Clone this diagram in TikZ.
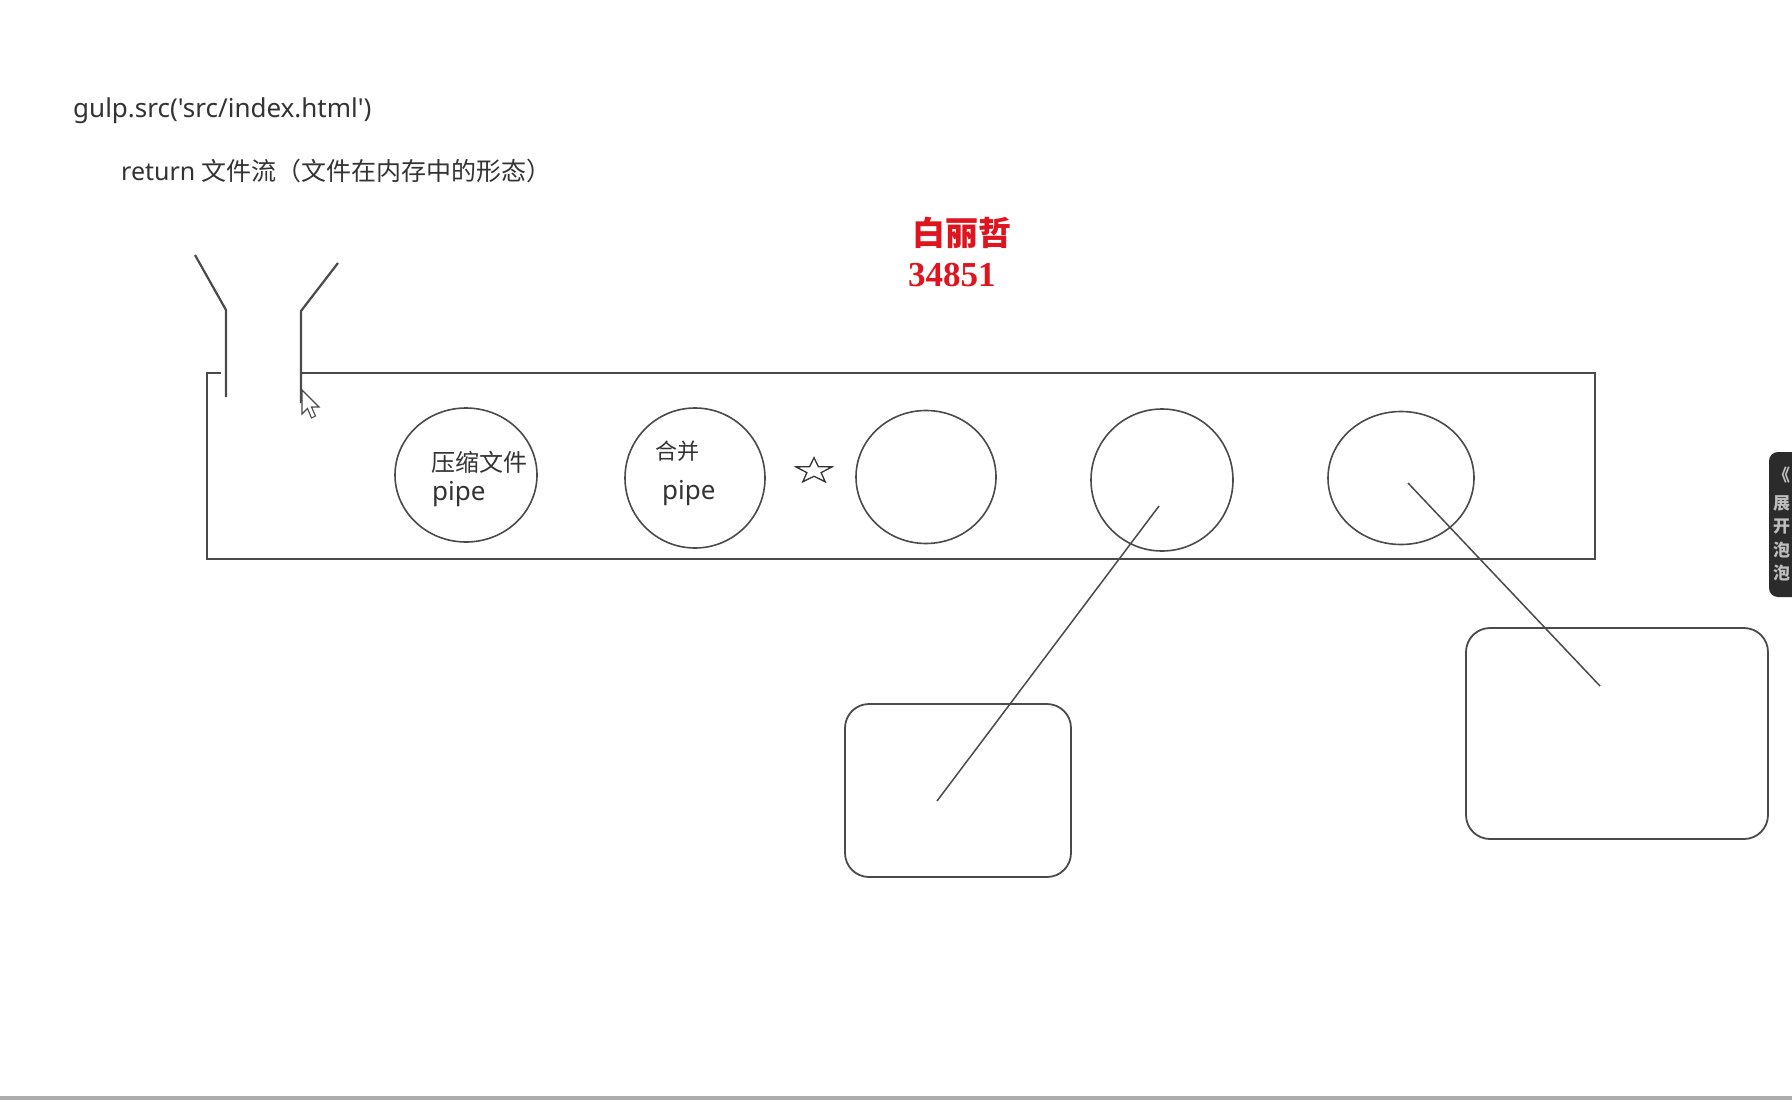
\documentclass[tikz,border=0pt]{standalone}
\usepackage{fontspec}
\setmainfont{Noto Sans}[Ligatures=TeXOff]
\newfontfamily\cjk{Noto Sans CJK SC}
\newfontfamily\serifb{Liberation Serif}
\usetikzlibrary{shapes.geometric}
\definecolor{ink}{HTML}{333333}
\definecolor{linec}{HTML}{4A4A4A}
\definecolor{redtxt}{HTML}{E0141E}
\definecolor{tabbg}{HTML}{2B2B2B}
\definecolor{tabfg}{HTML}{BDBDBD}
\tikzset{
  txt/.style={anchor=west, inner sep=0pt, text=ink},
  pipecircle/.style={draw=linec, line width=1.6pt, ellipse, inner sep=0pt},
  boxr/.style={draw=linec, line width=1.8pt, rounded corners=24pt, rectangle, inner sep=0pt},
  wire/.style={draw=linec, line width=1.5pt},
  frame/.style={draw=linec, line width=2.2pt},
  tabtxt/.style={anchor=west, inner sep=0pt, text=tabfg, font=\fontsize{17}{19}\selectfont\cjk\bfseries},
}
\begin{document}
\begin{tikzpicture}[x=1pt, y=-1pt]
\useasboundingbox (0,0) rectangle (1792,1100);
\fill[white] (0,0) rectangle (1792,1100);
\begin{scope}
\clip (0,0) rectangle (1792,1100);

% texts
\node[txt, font=\fontsize{26}{30}\selectfont] (gulp) at (73,111) {gulp.src('src/index.html')};
\node[txt, font=\fontsize{25}{30}\selectfont] (ret) at (121,171) {return {\cjk 文件流（文件在内存中的形态）}};
\node[txt, text=redtxt, font=\fontsize{33}{38}\selectfont\cjk\bfseries] (name) at (912,233) {白丽哲};
\node[txt, text=redtxt, font=\fontsize{35}{40}\selectfont\serifb\bfseries] (num) at (908,275) {34851};

% funnel + container
\draw[frame] (195,255) -- (226,310) -- (226,397);
\draw[frame] (338,263) -- (301,311) -- (301,403);
\draw[frame] (221,373) -- (207,373) -- (207,559) -- (1595,559) -- (1595,373) -- (301,373);

% cursor
\draw[fill=white, draw=linec, line width=1.1pt, shift={(302,390)}]
  (0,0) -- (0,24) -- (5.5,18.5) -- (9.5,28) -- (13.5,26) -- (9.5,17) -- (17,17) -- cycle;

% circles
\node[pipecircle, minimum width=142pt, minimum height=134pt] (c1) at (466,475) {};
\node[pipecircle, minimum width=140pt, minimum height=140pt] (c2) at (695,478) {};
\node[pipecircle, minimum width=140pt, minimum height=133pt] (c3) at (926,477) {};
\node[pipecircle, minimum width=142pt, minimum height=142pt] (c4) at (1162,480) {};
\node[pipecircle, minimum width=146pt, minimum height=133pt] (c5) at (1401,478) {};

\node[txt, font=\fontsize{24}{28}\selectfont\cjk] (t1a) at (431,462) {压缩文件};
\node[txt, font=\fontsize{26}{30}\selectfont] (t1b) at (432,494) {pipe};
\node[txt, font=\fontsize{22}{26}\selectfont\cjk] (t2a) at (655,451) {合并};
\node[txt, font=\fontsize{26}{30}\selectfont] (t2b) at (662,493) {pipe};

% star
\draw[draw=ink, line width=1.3pt, shift={(814,471)}, yscale=0.7]
  (-90:19) -- (-54:7.5) -- (-18:19) -- (18:7.5) -- (54:19) -- (90:7.5) -- (126:19) -- (162:7.5) -- (198:19) -- (234:7.5) -- cycle;

% rounded boxes
\node[boxr, minimum width=226pt, minimum height=173pt] (b1) at (958,790.5) {};
\node[boxr, minimum width=302pt, minimum height=211pt] (b2) at (1617,733.5) {};

% connectors
\coordinate (l1a) at (1159,506);
\coordinate (l1b) at (937,801);
\coordinate (l2a) at (1408,483);
\coordinate (l2b) at (1600,686);
\draw[wire] (l1a) -- (l1b);
\draw[wire] (l2a) -- (l2b);

% side tab
\fill[tabbg, rounded corners=9pt] (1810,452) -- (1769,452) -- (1769,597) -- (1810,597) -- cycle;
\node[tabtxt] (tab0) at (1773,475) {《};
\node[tabtxt] (tab1) at (1773,503) {展};
\node[tabtxt] (tab2) at (1773,527) {开};
\node[tabtxt] (tab3) at (1773,550) {泡};
\node[tabtxt] (tab4) at (1773,573) {泡};

% bottom edge
\fill[black!32] (0,1096) rectangle (1792,1100);
\end{scope}
\end{tikzpicture}
\end{document}
